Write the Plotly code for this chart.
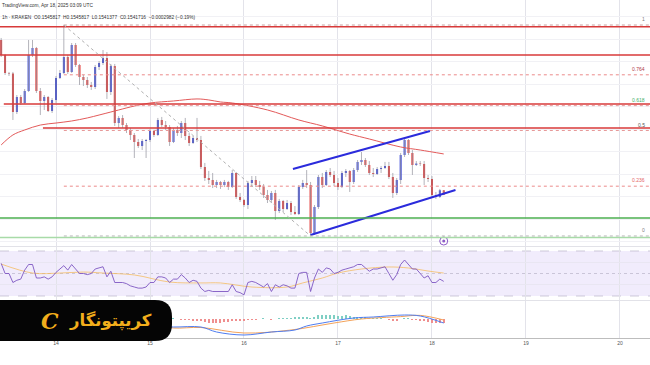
import plotly.graph_objects as go
import pandas as pd

# ---------------- data ----------------
start_time = "2025-04-13 10:00"   # first hourly candle

opens = [0.16793, 0.16660, 0.16500, 0.16496, 0.16153, 0.16286, 0.16233, 0.16340, 0.16660, 0.16722,
         0.16340, 0.16251, 0.16286, 0.16162, 0.16260, 0.16455, 0.16500, 0.16642, 0.16509, 0.16749,
         0.16571, 0.16464, 0.16437, 0.16393, 0.16375, 0.16553, 0.16589, 0.16633, 0.16331, 0.16562,
         0.16055, 0.16100, 0.16037, 0.15993, 0.15949, 0.15886, 0.15851, 0.15895, 0.15904, 0.15984,
         0.15949, 0.16082, 0.16037, 0.16020, 0.15886, 0.15993, 0.15966, 0.16055, 0.15940, 0.15877,
         0.15922, 0.15904, 0.15664, 0.15566, 0.15549, 0.15504, 0.15531, 0.15504, 0.15531, 0.15486,
         0.15611, 0.15397, 0.15371, 0.15326, 0.15522, 0.15549, 0.15504, 0.15486, 0.15415, 0.15371,
         0.15433, 0.15273, 0.15362, 0.15291, 0.15344, 0.15264, 0.15246, 0.15486, 0.15522, 0.15504,
         0.15077, 0.15309, 0.15575, 0.15504, 0.15620, 0.15593, 0.15522, 0.15486, 0.15611, 0.15629,
         0.15531, 0.15637, 0.15709, 0.15726, 0.15682, 0.15611, 0.15602, 0.15646, 0.15655, 0.15673,
         0.15575, 0.15433, 0.15549, 0.15771, 0.15904, 0.15789, 0.15682, 0.15695, 0.15691, 0.15566,
         0.15557, 0.15415, 0.15397, 0.15458]
highs = [0.16811, 0.16669, 0.16509, 0.16509, 0.16304, 0.16304, 0.16357, 0.16793, 0.16793, 0.16731,
         0.16366, 0.16304, 0.16295, 0.16277, 0.16473, 0.16526, 0.16926, 0.16660, 0.16766, 0.16766,
         0.16580, 0.16482, 0.16464, 0.16420, 0.16571, 0.16606, 0.16704, 0.16686, 0.16580, 0.16580,
         0.16117, 0.16126, 0.16055, 0.16011, 0.15966, 0.15913, 0.15913, 0.15913, 0.16002, 0.15993,
         0.16100, 0.16109, 0.16073, 0.16037, 0.16011, 0.16029, 0.16073, 0.16100, 0.15966, 0.15940,
         0.16100, 0.15940, 0.15700, 0.15629, 0.15611, 0.15549, 0.15540, 0.15549, 0.15540, 0.15637,
         0.15620, 0.15433, 0.15380, 0.15540, 0.15584, 0.15584, 0.15540, 0.15513, 0.15460, 0.15451,
         0.15460, 0.15380, 0.15371, 0.15371, 0.15362, 0.15317, 0.15504, 0.15549, 0.15637, 0.15531,
         0.15326, 0.15593, 0.15611, 0.15637, 0.15655, 0.15629, 0.15566, 0.15629, 0.15646, 0.15637,
         0.15655, 0.15726, 0.15797, 0.15744, 0.15717, 0.15655, 0.15664, 0.15673, 0.15709, 0.15709,
         0.15611, 0.15566, 0.15789, 0.15922, 0.15913, 0.15815, 0.15717, 0.15717, 0.15717, 0.15593,
         0.15584, 0.15442, 0.15469, 0.15458]
lows = [0.16642, 0.16482, 0.16473, 0.16082, 0.16135, 0.16215, 0.16224, 0.16331, 0.16642, 0.16322,
        0.16126, 0.16171, 0.16153, 0.16144, 0.16233, 0.16446, 0.16491, 0.16491, 0.16500, 0.16553,
        0.16393, 0.16384, 0.16366, 0.16349, 0.16357, 0.16526, 0.16571, 0.16269, 0.16304, 0.16029,
        0.16011, 0.16011, 0.15966, 0.15904, 0.15744, 0.15833, 0.15815, 0.15744, 0.15886, 0.15931,
        0.15940, 0.16020, 0.15993, 0.15851, 0.15877, 0.15940, 0.15922, 0.15904, 0.15851, 0.15869,
        0.15886, 0.15646, 0.15540, 0.15513, 0.15477, 0.15477, 0.15469, 0.15486, 0.15460, 0.15477,
        0.15380, 0.15353, 0.15309, 0.15291, 0.15486, 0.15486, 0.15460, 0.15389, 0.15344, 0.15344,
        0.15193, 0.15255, 0.15264, 0.15282, 0.15237, 0.15237, 0.15237, 0.15469, 0.15477, 0.15051,
        0.15060, 0.15291, 0.15477, 0.15495, 0.15575, 0.15495, 0.15460, 0.15477, 0.15575, 0.15442,
        0.15513, 0.15620, 0.15682, 0.15664, 0.15593, 0.15575, 0.15593, 0.15611, 0.15646, 0.15557,
        0.15389, 0.15415, 0.15513, 0.15753, 0.15771, 0.15593, 0.15673, 0.15673, 0.15504, 0.15531,
        0.15389, 0.15380, 0.15389, 0.15414]
closes = [0.16660, 0.16500, 0.16496, 0.16153, 0.16286, 0.16233, 0.16340, 0.16660, 0.16722, 0.16340,
          0.16251, 0.16286, 0.16162, 0.16260, 0.16455, 0.16500, 0.16642, 0.16509, 0.16749, 0.16571,
          0.16464, 0.16437, 0.16393, 0.16375, 0.16553, 0.16589, 0.16633, 0.16331, 0.16562, 0.16055,
          0.16100, 0.16037, 0.15993, 0.15949, 0.15886, 0.15851, 0.15895, 0.15904, 0.15984, 0.15949,
          0.16082, 0.16037, 0.16020, 0.15886, 0.15993, 0.15966, 0.16055, 0.15940, 0.15877, 0.15922,
          0.15904, 0.15664, 0.15566, 0.15549, 0.15504, 0.15531, 0.15504, 0.15531, 0.15486, 0.15611,
          0.15397, 0.15371, 0.15326, 0.15522, 0.15549, 0.15504, 0.15486, 0.15415, 0.15371, 0.15433,
          0.15273, 0.15362, 0.15291, 0.15344, 0.15264, 0.15246, 0.15486, 0.15522, 0.15504, 0.15077,
          0.15309, 0.15575, 0.15504, 0.15620, 0.15593, 0.15522, 0.15486, 0.15611, 0.15629, 0.15531,
          0.15637, 0.15709, 0.15726, 0.15682, 0.15611, 0.15602, 0.15646, 0.15655, 0.15673, 0.15575,
          0.15433, 0.15549, 0.15771, 0.15904, 0.15789, 0.15682, 0.15695, 0.15691, 0.15566, 0.15557,
          0.15415, 0.15397, 0.15458, 0.15417]

# moving average (red curve) read at some candle indices
ma_idx = [0, 3, 6, 10, 14, 18, 22, 25, 28, 30, 34, 38, 44, 50, 53, 56, 59, 68, 76, 82, 89, 94, 102, 107, 113]
ma_vals = [0.15860, 0.15949, 0.15993, 0.16037, 0.16055, 0.16073, 0.16100, 0.16126, 0.16153, 0.16171,
           0.16206, 0.16233, 0.16251, 0.16269, 0.16260, 0.16242, 0.16233, 0.16171, 0.16082, 0.16029,
           0.15957, 0.15913, 0.15842, 0.15815, 0.15780]

# RSI (hourly)
rsi_vals = [59, 50, 50, 42, 44, 45, 53, 58, 58, 46, 46, 47, 45, 47, 51, 54, 57, 53, 58, 54,
            50, 50, 49, 50, 54, 55, 56, 47, 52, 42, 42, 42, 41, 39, 38, 37, 37, 38, 42, 42,
            47, 47, 46, 42, 45, 45, 49, 46, 42, 44, 43, 37, 34, 35, 34, 34, 34, 34, 34, 40,
            34, 33, 31, 42, 43, 42, 40, 38, 41, 34, 40, 38, 40, 39, 37, 37, 50, 51, 51, 34,
            46, 54, 51, 55, 54, 50, 51, 53, 54, 55, 56, 58, 58, 55, 52, 54, 54, 55, 56, 50,
            44, 49, 58, 62, 58, 54, 54, 50, 46, 48, 42, 42, 45, 43]
rsi_ma_idx = [0, 8, 15, 21, 26, 34, 43, 51, 56, 64, 73, 77, 82, 86, 92, 99, 104, 109, 113]
rsi_ma_vals = [58.4, 50.4, 50.4, 51.3, 50.4, 48.7, 42.4, 41.6, 41.6, 38.0, 38.0, 41.6, 46.0, 50.4,
               54.0, 55.8, 54.9, 52.2, 50.4]

# MACD
macd_idx = [0, 10, 20, 30, 40, 44, 51, 55, 62, 69, 75, 78, 82, 90, 95, 103, 107, 113]
macd_vals = [0.0002, -0.0001, 0.0001, -0.0002, -0.00035, -0.0004, -0.0004, -0.00065, -0.0008,
             -0.00065, -0.00055, -0.00035, -0.0002, 0.00005, 0.0001, 0.0002, 0.00015, -0.0002]
sig_idx = [0, 20, 30, 40, 44, 51, 62, 74, 85, 92, 102, 107, 113]
sig_vals = [0.0001, 0.0, -0.0001, -0.0003, -0.00045, -0.000425, -0.0007, -0.00055, -0.0002, 0.0,
            0.00012, 0.00018, -0.00005]
hist_start = 44
hist_vals = [0.00002, 0.0, -0.00003, -0.00005, -0.00005, -0.00008, -0.0001, -0.00012, -0.00015,
             -0.00018, -0.0002, -0.0002, -0.00018, -0.00015, -0.00015, -0.00012, -0.0001, -0.0001,
             -0.00008, -0.00005, -0.00003, -0.00002, 0.0, 0.00002, 0.0, -0.00002, 0.0,
             0.00002, 0.00003, 0.00003, 0.00005, 0.00008, 0.0001, 0.00012, 0.0001, 0.00005,
             0.00012, 0.00018, 0.0002, 0.00022, 0.0002, 0.00018, 0.00015, 0.00015, 0.00018,
             0.00015, 0.00012, 0.0001, 0.0001, 0.00008, 0.00005, 0.00005, 0.00003, 0.00002,
             0.0, -0.00003, -0.00008, -0.00006, 0.0, 0.00004, 0.00002, -0.00003, -0.00005,
             -0.00008, -0.00012, -0.00013, -0.00018, -0.0002, -0.0002, -0.00022]

# horizontal support / resistance lines
red_line_prices = [0.16911, 0.16660, 0.16224, 0.16011]
red_line_starts = ["2025-04-13 00:00", "2025-04-13 00:00", "2025-04-13 10:40", "2025-04-13 20:40"]
green_line_prices = [0.15211, 0.15037]

# fibonacci retracement
fib_levels = [0, 0.236, 0.5, 0.618, 0.764, 1]
fib_labels = ["0", "0.236", "0.5", "0.618", "0.764", "1"]
fib_low, fib_high = 0.15051, 0.16926
fib_high_time, fib_low_time = "2025-04-14 02:00", "2025-04-16 17:00"

# rising channel
chan_upper = [("2025-04-16 12:30", 0.15646), ("2025-04-17 23:30", 0.15984)]
chan_lower = [("2025-04-16 17:00", 0.15060), ("2025-04-18 06:00", 0.15460)]

event_time, event_price = "2025-04-18 03:00", 0.15006

day_ticks = ["2025-04-14", "2025-04-15", "2025-04-16", "2025-04-17", "2025-04-18", "2025-04-19", "2025-04-20"]
day_labels = ["14", "15", "16", "17", "18", "19", "20"]

header1 = "TradingView.com, Apr 18, 2025 03:09 UTC"
header2 = "1h · KRAKEN  O0.1545817  H0.1545817  L0.1541377  C0.1541716  −0.0002982 (−0.19%)"
brand = "کریپتونگار"

# ---------------- figure ----------------
W, H = 650, 365
UP, DN = "#2433d4", "#e0221f"
times = pd.date_range(start_time, periods=len(opens), freq="h")


def py(p):  # pixel row -> paper y
    return 1 - p / H


fig = go.Figure()

# wicks
wx, wy = [], []
for t, h, l in zip(times, highs, lows):
    wx += [t, t, None]
    wy += [l, h, None]
fig.add_trace(go.Scatter(x=wx, y=wy, mode="lines", line=dict(color="#a0a0a8", width=0.8),
                         hoverinfo="skip", showlegend=False, xaxis="x", yaxis="y"))
fig.add_trace(go.Candlestick(x=times, open=opens, high=highs, low=lows, close=closes,
                             increasing=dict(line=dict(color=UP, width=0), fillcolor=UP),
                             decreasing=dict(line=dict(color=DN, width=0), fillcolor=DN),
                             whiskerwidth=0, showlegend=False, xaxis="x", yaxis="y"))
# moving average
fig.add_trace(go.Scatter(x=[times[i] for i in ma_idx], y=ma_vals, mode="lines",
                         line=dict(color="#e35a5a", width=1, shape="spline"),
                         showlegend=False, xaxis="x", yaxis="y"))
# channel
for seg in (chan_upper, chan_lower):
    fig.add_trace(go.Scatter(x=[p[0] for p in seg], y=[p[1] for p in seg], mode="lines",
                             line=dict(color="#2b2bdc", width=2), showlegend=False,
                             xaxis="x", yaxis="y"))
# event marker
fig.add_trace(go.Scatter(x=[event_time], y=[event_price], mode="markers",
                         marker=dict(symbol="circle-open", size=8, color="#8e5cc8", line=dict(width=1)),
                         showlegend=False, xaxis="x", yaxis="y"))
fig.add_trace(go.Scatter(x=[event_time], y=[event_price], mode="markers",
                         marker=dict(symbol="circle", size=3, color="#8e5cc8"),
                         showlegend=False, xaxis="x", yaxis="y"))

# RSI
fig.add_trace(go.Scatter(x=[times[i] for i in rsi_ma_idx], y=rsi_ma_vals, mode="lines",
                         line=dict(color="rgba(244,186,90,0.75)", width=1, shape="spline"),
                         showlegend=False, xaxis="x2", yaxis="y2"))
fig.add_trace(go.Scatter(x=times, y=rsi_vals, mode="lines", line=dict(color="#7e57c2", width=0.9),
                         showlegend=False, xaxis="x2", yaxis="y2"))

# MACD
hist_times = times[hist_start:hist_start + len(hist_vals)]
hist_colors = ["#7fcfc4" if v >= 0 else "#ef8f8f" for v in hist_vals]
fig.add_trace(go.Bar(x=hist_times, y=hist_vals, marker=dict(color=hist_colors, line=dict(width=0)),
                     width=1100000, showlegend=False, xaxis="x3", yaxis="y3"))
fig.add_trace(go.Scatter(x=[times[i] for i in sig_idx], y=sig_vals, mode="lines",
                         line=dict(color="#f4a35a", width=1, shape="spline"),
                         showlegend=False, xaxis="x3", yaxis="y3"))
fig.add_trace(go.Scatter(x=[times[i] for i in macd_idx], y=macd_vals, mode="lines",
                         line=dict(color="#4f7df0", width=1, shape="spline"),
                         showlegend=False, xaxis="x3", yaxis="y3"))

shapes = []
far_right = "2025-04-21 00:00"
for p, s in zip(red_line_prices, red_line_starts):
    shapes.append(dict(type="line", xref="x", yref="y", x0=s, x1=far_right, y0=p, y1=p,
                       line=dict(color="#d83a3a", width=1.4), layer="above"))
shapes.append(dict(type="line", xref="x", yref="y", x0="2025-04-13 00:00", x1=far_right,
                   y0=green_line_prices[0], y1=green_line_prices[0],
                   line=dict(color="#4caf50", width=1.4)))
shapes.append(dict(type="line", xref="x", yref="y", x0="2025-04-13 00:00", x1=far_right,
                   y0=green_line_prices[1], y1=green_line_prices[1],
                   line=dict(color="#a8dba8", width=1.4)))
fib_line_colors = ["#b8b8b8", "#ec8a8a", "#e79a9a", "#e79a9a", "#ec8a8a", "#c8a0a0"]
fib_text_colors = ["#808080", "#e46565", "#555555", "#43b06a", "#b03a48", "#808080"]
annotations = []
for lv, lab, lc, tc in zip(fib_levels, fib_labels, fib_line_colors, fib_text_colors):
    price = fib_low + lv * (fib_high - fib_low)
    shapes.append(dict(type="line", xref="x", yref="y", x0=fib_high_time, x1=far_right,
                       y0=price, y1=price, line=dict(color=lc, width=1, dash="dot")))
    annotations.append(dict(xref="paper", yref="y", x=0.995, y=price, text=lab, showarrow=False,
                            xanchor="right", yanchor="bottom", yshift=1,
                            font=dict(size=5, color=tc, family="Liberation Sans")))
shapes.append(dict(type="line", xref="x", yref="y", x0=fib_high_time, x1=fib_low_time,
                   y0=fib_high, y1=fib_low, line=dict(color="#b0b0b0", width=1, dash="dot")))

# RSI band and levels
shapes.append(dict(type="rect", xref="paper", yref="y2", x0=0, x1=1, y0=30, y1=70,
                   fillcolor="rgba(150,110,230,0.13)", line=dict(width=0), layer="below"))
for lvl, dsh in ((70, "dash"), (50, "dot"), (30, "dash")):
    shapes.append(dict(type="line", xref="paper", yref="y2", x0=0, x1=1, y0=lvl, y1=lvl,
                       line=dict(color="#b9b4c8", width=0.7, dash=dsh), layer="below"))
# pane separators
for pix in (246.5, 300.5):
    shapes.append(dict(type="line", xref="paper", yref="paper", x0=0, x1=1, y0=py(pix), y1=py(pix),
                       line=dict(color="#e2e2e8", width=1)))

# brand badge
bx, r, top, bot = 172, 17, 300, 341
path = (f"M -0.01 {py(top)} L {(bx - r) / W} {py(top)} Q {bx / W} {py(top)} {bx / W} {py(top + r)} "
        f"L {bx / W} {py(bot - r)} Q {bx / W} {py(bot)} {(bx - r) / W} {py(bot)} L -0.01 {py(bot)} Z")
shapes.append(dict(type="path", xref="paper", yref="paper", path=path, fillcolor="#050505",
                   line=dict(width=0), layer="above"))
annotations.append(dict(xref="paper", yref="paper", x=111 / W, y=py(320), text=brand, showarrow=False,
                        font=dict(size=16.5, color="#f2ae1c", family="DejaVu Sans", weight="bold"),
                        xanchor="center", yanchor="middle"))
annotations.append(dict(xref="paper", yref="paper", x=50 / W, y=py(321), text="C", showarrow=False,
                        font=dict(size=22, color="#f2ae1c", family="DejaVu Serif", weight="bold",
                                  style="italic"),
                        xanchor="center", yanchor="middle"))

# header
annotations.append(dict(xref="paper", yref="paper", x=0, y=py(5.7), text=header1, showarrow=False,
                        xanchor="left", yanchor="middle",
                        font=dict(size=4.8, color="#333333", family="Liberation Sans")))
annotations.append(dict(xref="paper", yref="paper", x=0, y=py(17.3), text=header2, showarrow=False,
                        xanchor="left", yanchor="middle",
                        font=dict(size=4.8, color="#333333", family="Liberation Sans")))

x_range = ["2025-04-13 09:42", "2025-04-20 07:40"]
common_x = dict(type="date", range=x_range, showgrid=True, gridcolor="#e3e3ea", gridwidth=1,
                tickvals=day_ticks, ticktext=day_labels, showticklabels=False, zeroline=False,
                showline=False, ticks="", fixedrange=True, domain=[0, 1])

fig.update_layout(
    width=W, height=H, margin=dict(l=0, r=0, t=0, b=0),
    paper_bgcolor="white", plot_bgcolor="white", showlegend=False, bargap=0,
    xaxis=dict(common_x, anchor="y", rangeslider=dict(visible=False)),
    xaxis2=dict(common_x, anchor="y2", matches="x"),
    xaxis3=dict(common_x, anchor="y3", matches="x", showticklabels=True,
                tickfont=dict(size=5, color="#555555", family="Liberation Sans"),
                showline=True, linecolor="#bdbdbd", linewidth=1),
    yaxis=dict(domain=[py(246), 1], range=[0.149618, 0.171485], showgrid=True, gridcolor="#f1f1f5",
               tick0=0.150, dtick=0.002, showticklabels=False, zeroline=False, fixedrange=True),
    yaxis2=dict(domain=[py(300), py(247)], range=[26.44, 73.56], tickvals=[40, 60], showgrid=True,
                gridcolor="#e9e6f2", showticklabels=False, zeroline=False, fixedrange=True),
    yaxis3=dict(domain=[py(338), py(301)], range=[-0.00095, 0.0009], showgrid=False,
                showticklabels=False, zeroline=False, fixedrange=True),
    shapes=shapes, annotations=annotations,
)

fig.write_html("out.html", config={"displayModeBar": False},
               post_script="document.body.style.margin='0';document.body.style.padding='0';"
                           "document.body.style.overflow='hidden';")
